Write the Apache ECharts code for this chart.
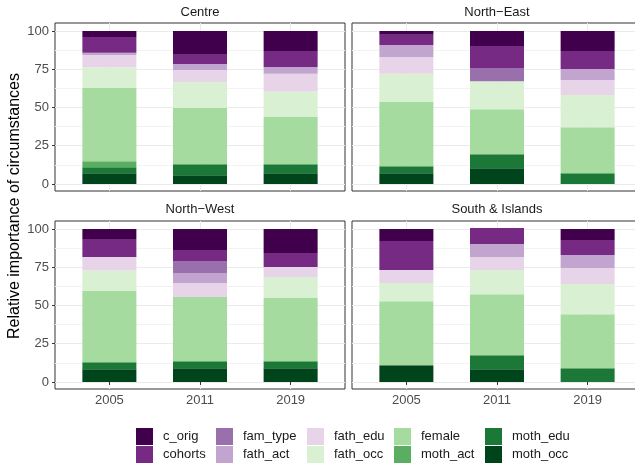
<!DOCTYPE html>
<html>
<head>
<meta charset="utf-8">
<script src="https://cdn.jsdelivr.net/npm/echarts@6/dist/echarts.min.js"></script>
<style>
  html, body { margin: 0; padding: 0; background: #ffffff; }
  #chart { width: 635px; height: 464px; }
</style>
</head>
<body>
<div id="chart"></div>
<script>
// Survey waves and regions (panels, left-to-right, top-to-bottom)
const years = ['2005', '2011', '2019'];
const regions = ['Centre', 'North\u2212East', 'North\u2212West', 'South & Islands'];

// Share of each circumstance, per region and wave:
// [Centre 05, 11, 19, North-East 05, 11, 19, North-West 05, 11, 19, South 05, 11, 19]
const moth_occ = [7.0, 5.7, 7.0,   7.0, 10.3, 0,     8.3, 9.0, 9.0,    10.9, 8.3, 0];
const moth_edu = [3.9, 7.2, 5.9,   4.6, 9.1, 7.0,    4.6, 4.5, 4.5,    0, 9.2, 9.0];
const moth_act = [3.9, 0, 0,       0, 0, 0,          0, 0, 0,          0, 0, 0];
const female   = [47.9, 36.7, 30.8, 41.9, 29.5, 30.1, 46.5, 42.0, 41.3, 41.9, 39.9, 35.3];
const fath_occ = [13.5, 17.0, 16.8, 18.6, 18.3, 21.0, 13.5, 0, 13.8,   11.8, 15.7, 19.7];
const fath_edu = [8.1, 7.9, 11.6,  10.9, 0, 9.8,     8.8, 9.1, 6.5,    8.5, 8.6, 10.5];
const fath_act = [1.5, 3.9, 4.3,   7.8, 0, 7.2,      0, 6.6, 0,        0, 8.5, 8.5];
const fam_type = [0, 0, 0,         0, 8.6, 0,        0, 7.8, 0,        0, 0, 0];
const cohorts  = [10.3, 6.1, 10.5, 6.8, 14.4, 11.8,  11.7, 7.2, 9.2,   19.0, 10.5, 9.8];
const c_orig   = [3.9, 15.5, 13.1, 2.4, 9.8, 13.1,   6.6, 13.8, 15.7,  7.9, 0, 7.2];

// Legend / top-to-bottom order and the matching PRGn colours
const legendOrder = ['c_orig', 'cohorts', 'fam_type', 'fath_act', 'fath_edu',
                     'fath_occ', 'female', 'moth_act', 'moth_edu', 'moth_occ'];
const palette = ['#40004b', '#762a83', '#9970ab', '#c2a5cf', '#e7d4e8',
                 '#d9f0d3', '#a6dba0', '#5aae61', '#1b7837', '#00441b'];

const values = { c_orig, cohorts, fam_type, fath_act, fath_edu,
                 fath_occ, female, moth_act, moth_edu, moth_occ };

const FONT = '"Liberation Sans", Arial, Helvetica, sans-serif';

// The x axis is split into 0.2-wide slots from 0.4 to 3.6 so that the three
// waves sit at 1, 2 and 3 with a 0.6 margin on each side of the panel.
const SLOTS = 17;
const yearSlot = [3, 8, 13];
const slots = Array.from({ length: SLOTS }, (_, k) => {
  const j = yearSlot.indexOf(k);
  return j >= 0 ? years[j] : '';
});
const isYear = (idx, val) => val !== '';

// Panel geometry (2 x 2 facets); the right column runs past the canvas edge
const panels = [
  { left: 55,  top: 23 },
  { left: 352, top: 23 },
  { left: 55,  top: 221 },
  { left: 352, top: 221 }
];
const PW = 290, PH = 168;
const Y_MIN = -4.6, Y_MAX = 105.2;

const grid = panels.map(p => ({
  left: p.left, top: p.top, width: PW, height: PH,
  outerBoundsMode: 'none',
  show: true, borderColor: '#333333', borderWidth: 1,
  backgroundColor: 'transparent', containLabel: false
}));

const xAxis = panels.map((p, i) => {
  const bottomRow = i >= 2;
  return {
    type: 'category', gridIndex: i, data: slots, boundaryGap: false,
    axisLine: { show: false },
    axisTick: { show: bottomRow, interval: isYear, length: 3,
                lineStyle: { color: '#333333', width: 1 } },
    axisLabel: { show: bottomRow, interval: isYear, margin: 5,
                 color: '#4d4d4d', fontSize: 13, fontFamily: FONT },
    splitLine: { show: true, interval: isYear, lineStyle: { color: '#ebebeb', width: 1 } }
  };
});

const yAxis = [];
panels.forEach((p, i) => {
  const leftCol = i % 2 === 0;
  yAxis.push({
    type: 'value', gridIndex: i, min: Y_MIN, max: Y_MAX, position: 'left',
    axisLine: { show: false },
    axisTick: { show: leftCol, customValues: [0, 25, 50, 75, 100], length: 3,
                lineStyle: { color: '#333333', width: 1 } },
    axisLabel: { show: leftCol, customValues: [0, 25, 50, 75, 100], margin: 6,
                 color: '#4d4d4d', fontSize: 13, fontFamily: FONT },
    splitLine: { show: true, lineStyle: { color: '#ebebeb', width: 1 } }
  });
});
// minor horizontal grid lines
panels.forEach((p, i) => {
  yAxis.push({
    type: 'value', gridIndex: i, min: Y_MIN, max: Y_MAX, position: 'left',
    axisLine: { show: false },
    axisTick: { show: false, customValues: [12.5, 37.5, 62.5, 87.5] },
    axisLabel: { show: false },
    splitLine: { show: true, lineStyle: { color: '#f3f3f3', width: 1 } }
  });
});

// Stacked bars: bottom segment first
const stackOrder = legendOrder.slice().reverse();
const series = [];
panels.forEach((p, i) => {
  stackOrder.forEach(name => {
    const arr = values[name];
    const data = slots.map(() => '-');
    yearSlot.forEach((s, k) => { data[s] = arr[i * 3 + k]; });
    series.push({
      type: 'bar', name: name, stack: 'panel' + i,
      xAxisIndex: i, yAxisIndex: i,
      barWidth: 54,
      itemStyle: { color: palette[legendOrder.indexOf(name)] },
      emphasis: { disabled: true },
      data: data
    });
  });
});

// Facet strip labels
const title = panels.map((p, i) => ({
  text: regions[i],
  left: p.left + PW / 2, top: i < 2 ? 6 : 203, padding: 0,
  textAlign: 'center',
  textStyle: { fontSize: 13, fontWeight: 'normal', color: '#1a1a1a', fontFamily: FONT }
}));

// Legend: five columns of two keys
const legendCols = [136, 216, 307, 394, 485];
const legend = legendCols.map((x, c) => ({
  left: x, top: 428, orient: 'vertical', padding: 0,
  itemWidth: 17, itemHeight: 17, itemGap: 1,
  icon: 'rect', selectedMode: false,
  data: legendOrder.slice(c * 2, c * 2 + 2),
  textStyle: { fontSize: 13, color: '#1a1a1a', fontFamily: FONT, padding: [0, 0, 0, 5] }
}));

const chart = echarts.init(document.getElementById('chart'), null, { renderer: 'canvas' });
chart.setOption({
  animation: false,
  backgroundColor: '#ffffff',
  color: palette,
  title, legend, grid, xAxis, yAxis, series,
  graphic: [{
    type: 'text', x: 15, y: 206, rotation: Math.PI / 2,
    style: { text: 'Relative importance of circumstances', fontSize: 16,
             fontFamily: FONT, fill: '#000000', align: 'center', verticalAlign: 'middle' }
  }]
});
</script>
</body>
</html>
